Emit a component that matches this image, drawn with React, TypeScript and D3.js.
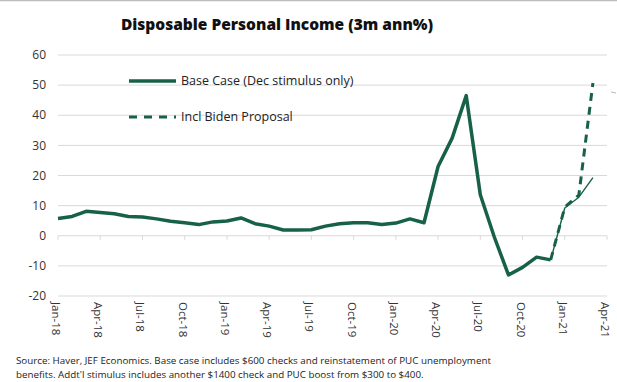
import React from "react";
import * as d3 from "d3";

const months: string[] = [
  "Jan-18","Feb-18","Mar-18","Apr-18","May-18","Jun-18","Jul-18","Aug-18","Sep-18","Oct-18","Nov-18","Dec-18",
  "Jan-19","Feb-19","Mar-19","Apr-19","May-19","Jun-19","Jul-19","Aug-19","Sep-19","Oct-19","Nov-19","Dec-19",
  "Jan-20","Feb-20","Mar-20","Apr-20","May-20","Jun-20","Jul-20","Aug-20","Sep-20","Oct-20","Nov-20","Dec-20",
  "Jan-21","Feb-21","Mar-21",
];
const actual: number[] = [
  5.7, 6.4, 8.1, 7.7, 7.3, 6.4, 6.2, 5.6, 4.8, 4.3, 3.7, 4.6,
  4.9, 5.9, 4.0, 3.2, 1.9, 1.9, 2.0, 3.2, 4.0, 4.3, 4.3, 3.7,
  4.2, 5.6, 4.3, 23.0, 32.4, 46.5, 13.6, -0.5, -13.0, -10.5, -7.1, -8.0,
];
const baseForecastMonths: string[] = ["Dec-20", "Jan-21", "Feb-21", "Mar-21"];
const baseForecast: number[] = [-8.0, 9.2, 12.8, 19.3];
const bidenValues: number[] = [-8.0, 9.5, 13.5, 50.7];
const tickLabels: string[] = [
  "Jan-18","Apr-18","Jul-18","Oct-18","Jan-19","Apr-19","Jul-19","Oct-19",
  "Jan-20","Apr-20","Jul-20","Oct-20","Jan-21","Apr-21",
];
const yTicks: number[] = [-20, -10, 0, 10, 20, 30, 40, 50, 60];

const W = 617;
const H = 382;
const GREEN = "#17604a";
const FONT = "'Open Sans', 'Noto Sans', sans-serif";

export default function App() {
  const x = d3.scaleLinear().domain([0, 39]).range([58, 607]);
  const y = d3.scaleLinear().domain([-20, 60]).range([296, 55]);
  const idx = (m: string) => months.indexOf(m);
  const tickIdx = (t: string) => {
    const i = months.indexOf(t);
    return i >= 0 ? i : 39;
  };

  const line = d3
    .line<[number, number]>()
    .x((d) => x(d[0]))
    .y((d) => y(d[1]));

  const actualPath = line(actual.map((v, i) => [i, v]));
  const basePath = line(baseForecast.map((v, i) => [idx(baseForecastMonths[i]), v]));
  const bidenPath = line(bidenValues.map((v, i) => [idx(baseForecastMonths[i]), v]));

  return (
    <svg
      width={W}
      height={H}
      style={{ position: "absolute", left: 0, top: 0, background: "#fff" }}
      fontFamily={FONT}
    >
      <rect x={0} y={0} width={W} height={H} fill="#fff" />
      <line x1={0} x2={W} y1={0.5} y2={0.5} stroke="#bdbdbd" strokeWidth={1.5} />
      <text
        x={277}
        y={30}
        textAnchor="middle"
        fontSize={15.5}
        fontWeight={800}
        fill="#111"
      >
        Disposable Personal Income (3m ann%)
      </text>

      {yTicks.map((t) => (
        <g key={t}>
          <line x1={58} x2={607} y1={y(t)} y2={y(t)} stroke="#d9d9d9" strokeWidth={1} />
          <text
            x={46}
            y={y(t)}
            dy="0.35em"
            textAnchor="end"
            fontSize={12}
            fill="#333"
          >
            {t}
          </text>
        </g>
      ))}

      {tickLabels.map((t) => {
        const xi = x(tickIdx(t));
        return (
          <g key={t}>
            <line x1={xi} x2={xi} y1={y(0)} y2={y(0) + 4} stroke="#d9d9d9" strokeWidth={1} />
            <text
              transform={`translate(${xi - 2},${302}) rotate(90)`}
              dy="0.35em"
              textAnchor="start"
              fontSize={11.5}
              fill="#333"
            >
              {t}
            </text>
          </g>
        );
      })}

      <path d={actualPath || ""} fill="none" stroke={GREEN} strokeWidth={3.5} strokeLinejoin="round" />
      <path d={basePath || ""} fill="none" stroke={GREEN} strokeWidth={1.4} strokeLinejoin="round" />
      <path
        d={bidenPath || ""}
        fill="none"
        stroke={GREEN}
        strokeWidth={3}
        strokeDasharray="8,6"
      />

      <line x1={129} x2={176} y1={81} y2={81} stroke={GREEN} strokeWidth={3.5} />
      <text x={181} y={81} dy="0.35em" fontSize={12.5} fill="#222">
        Base Case (Dec stimulus only)
      </text>
      <line x1={129} x2={176} y1={117} y2={117} stroke={GREEN} strokeWidth={3} strokeDasharray="8,7" />
      <text x={181} y={117} dy="0.35em" fontSize={12.5} fill="#222">
        Incl Biden Proposal
      </text>
      <line x1={611} x2={616} y1={92} y2={93} stroke="#bbb" strokeWidth={1} />

      <text x={16} y={364} fontSize={9.8} fill="#222">
        Source: Haver, JEF Economics. Base case includes $600 checks and reinstatement of PUC unemployment
      </text>
      <text x={16} y={378} fontSize={9.8} fill="#222">
        benefits. Addt'l stimulus includes another $1400 check and PUC boost from $300 to $400.
      </text>
    </svg>
  );
}
